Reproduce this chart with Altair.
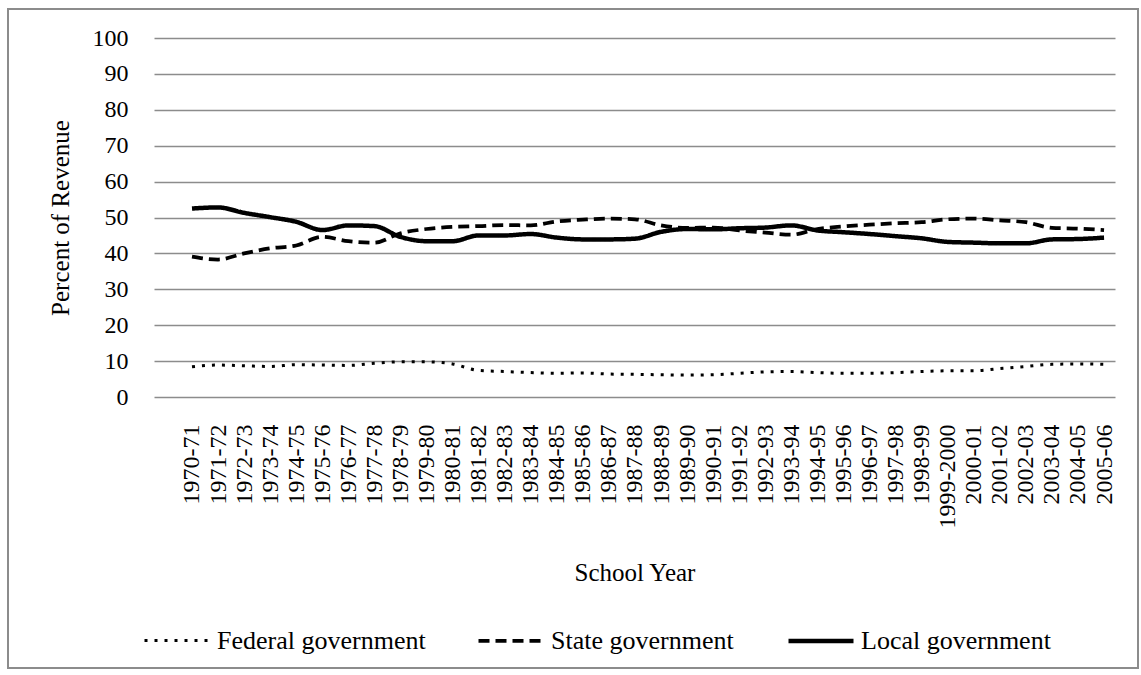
import altair as alt
import pandas as pd

years = ["1970-71", "1971-72", "1972-73", "1973-74", "1974-75", "1975-76", "1976-77",
         "1977-78", "1978-79", "1979-80", "1980-81", "1981-82", "1982-83", "1983-84",
         "1984-85", "1985-86", "1986-87", "1987-88", "1988-89", "1989-90", "1990-91",
         "1991-92", "1992-93", "1993-94", "1994-95", "1995-96", "1996-97", "1997-98",
         "1998-99", "1999-2000", "2000-01", "2001-02", "2002-03", "2003-04", "2004-05",
         "2005-06"]

federal = [8.4, 8.9, 8.7, 8.5, 9.0, 8.9, 8.8, 9.4, 9.8, 9.8, 9.2, 7.4, 7.1, 6.8, 6.6, 6.7,
           6.4, 6.3, 6.2, 6.1, 6.2, 6.6, 7.0, 7.1, 6.8, 6.6, 6.6, 6.8, 7.1, 7.3, 7.3, 7.9,
           8.5, 9.1, 9.2, 9.1]
state = [39.1, 38.3, 40.0, 41.4, 42.2, 44.6, 43.4, 43.0, 45.6, 46.8, 47.4, 47.6, 47.9, 47.8,
         48.9, 49.4, 49.7, 49.5, 47.8, 47.1, 47.2, 46.4, 45.8, 45.2, 46.8, 47.5, 48.0, 48.4,
         48.7, 49.5, 49.7, 49.2, 48.7, 47.1, 46.9, 46.5]
local = [52.5, 52.8, 51.3, 50.1, 48.8, 46.5, 47.8, 47.6, 44.6, 43.4, 43.4, 45.0, 45.0, 45.4,
         44.4, 43.9, 43.9, 44.1, 46.0, 46.8, 46.7, 47.0, 47.2, 47.8, 46.4, 45.9, 45.4, 44.8,
         44.2, 43.2, 43.0, 42.8, 42.8, 43.9, 44.0, 44.4]

series_names = ["Federal government", "State government", "Local government"]
series_values = [federal, state, local]
y_ticks = [0, 10, 20, 30, 40, 50, 60, 70, 80, 90, 100]

rows = []
for name, vals in zip(series_names, series_values):
    for i, (yr, v) in enumerate(zip(years, vals)):
        rows.append({"idx": i, "year": yr, "series": name, "value": v})
df = pd.DataFrame(rows)

label_expr = "[" + ",".join("'" + y + "'" for y in years) + "][datum.value]"

FONT = "Liberation Serif"

lines = alt.Chart(df).mark_line(interpolate="monotone", color="black").encode(
    x=alt.X("idx:Q",
            scale=alt.Scale(domain=[-1.458, 35.42], nice=False, zero=False),
            axis=alt.Axis(values=list(range(len(years))), labelExpr=label_expr,
                          labelAngle=270, labelAlign="right", labelBaseline="middle",
                          tickSize=0, labelPadding=27, domain=False, grid=False,
                          title="School Year", titleY=175, titleBaseline="middle",
                          titleFontWeight="normal", labelOverlap=False)),
    y=alt.Y("value:Q",
            scale=alt.Scale(domain=[0, 100], nice=False),
            axis=alt.Axis(values=y_ticks, tickSize=0, labelPadding=26, domain=False,
                          grid=True, gridColor="#8c8c8c", gridWidth=1.5,
                          title="Percent of Revenue", titleX=-94, titleBaseline="middle",
                          titleFontWeight="normal")),
    strokeDash=alt.StrokeDash("series:N",
                              scale=alt.Scale(domain=series_names,
                                              range=[[3, 7], [11, 6], [1, 0]]),
                              legend=alt.Legend(title=None, orient="none", direction="horizontal",
                                                columns=3, legendX=-12, legendY=568,
                                                symbolType="stroke", symbolSize=4225,
                                                symbolStrokeWidth=4, symbolStrokeColor="black",
                                                labelFontSize=26, labelFont=FONT,
                                                labelColor="black", columnPadding=45,
                                                labelOffset=5, labelLimit=400)),
    strokeWidth=alt.StrokeWidth("series:N",
                                scale=alt.Scale(domain=series_names, range=[3, 4.5, 4.5]),
                                legend=None),
    order="idx:Q",
)

border = alt.Chart(pd.DataFrame({"a": [0]})).mark_rect(
    fill=None, stroke="#8c8c8c", strokeWidth=2
).encode(x=alt.value(8 - 154), x2=alt.value(1138 - 154),
         y=alt.value(9 - 38), y2=alt.value(668 - 38))

chart = alt.layer(border, lines).properties(
    width=961, height=359,
    autosize=alt.AutoSizeParams(type="none"),
    padding={"left": 154, "top": 38, "right": 26, "bottom": 278},
    background="white",
).configure_view(stroke=None).configure_axis(
    labelFont=FONT, titleFont=FONT, labelFontSize=24, titleFontSize=25,
    labelColor="black", titleColor="black"
)

chart.save("out.html", embed_options={"renderer": "svg", "actions": False})
